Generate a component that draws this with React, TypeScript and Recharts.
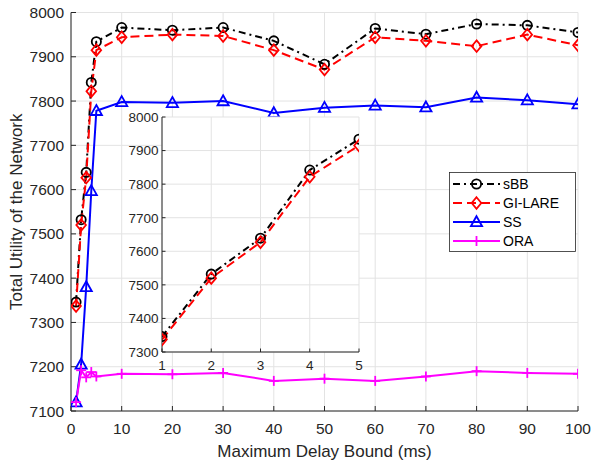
import React from 'react';
import { LineChart, Line, XAxis, YAxis, CartesianGrid, Legend } from 'recharts';

const delayBounds = [1, 2, 3, 4, 5, 10, 20, 30, 40, 50, 60, 70, 80, 90, 100];
const sBB = [7346, 7532, 7639, 7842, 7934, 7966, 7960, 7966, 7936, 7883, 7964, 7951, 7974, 7971, 7955];
const giLare = [7337, 7520, 7627, 7822, 7915, 7944, 7950, 7947, 7915, 7871, 7944, 7936, 7924, 7950, 7926];
const ss = [7120, 7205, 7380, 7597, 7778, 7798, 7796, 7800, 7773, 7785, 7790, 7786, 7808, 7802, 7793];
const ora = [7120, 7192, 7176, 7188, 7178, 7184, 7183, 7186, 7168, 7173, 7168, 7178, 7190, 7186, 7184];

const xTicks = [0, 10, 20, 30, 40, 50, 60, 70, 80, 90, 100];
const yTicks = [7100, 7200, 7300, 7400, 7500, 7600, 7700, 7800, 7900, 8000];
const insetXTicks = [1, 2, 3, 4, 5];
const insetYTicks = [7300, 7400, 7500, 7600, 7700, 7800, 7900, 8000];

const xLabel = 'Maximum Delay Bound (ms)';
const yLabel = 'Total Utility of the Network';

const FONT = '"Liberation Sans", Arial, Helvetica, sans-serif';
const AXIS = '#262626';
const GRID = '#e3e3e3';

type MarkerKind = 'circle' | 'diamond' | 'triangle' | 'plus';

const series: { key: string; name: string; color: string; dash?: string; marker: MarkerKind }[] = [
  { key: 'sBB', name: 'sBB', color: '#000000', dash: '7 4 2 4', marker: 'circle' },
  { key: 'giLare', name: 'GI-LARE', color: '#ff0000', dash: '9 5', marker: 'diamond' },
  { key: 'ss', name: 'SS', color: '#0000ff', marker: 'triangle' },
  { key: 'ora', name: 'ORA', color: '#ff00ff', marker: 'plus' },
];

const mainData = delayBounds.map((x, i) => ({
  x,
  sBB: sBB[i],
  giLare: giLare[i],
  ss: ss[i],
  ora: ora[i],
}));

const insetData = mainData.filter((d) => d.x <= 5);

function Marker({ kind, cx, cy, color }: { kind: MarkerKind; cx: number; cy: number; color: string }) {
  if (cx == null || cy == null || isNaN(cx) || isNaN(cy)) return null;
  const sw = 1.8;
  if (kind === 'circle') {
    return <circle cx={cx} cy={cy} r={4.6} fill="none" stroke={color} strokeWidth={sw} />;
  }
  if (kind === 'diamond') {
    const w = 4.8;
    const h = 5.8;
    return (
      <polygon
        points={`${cx},${cy - h} ${cx + w},${cy} ${cx},${cy + h} ${cx - w},${cy}`}
        fill="none"
        stroke={color}
        strokeWidth={sw}
      />
    );
  }
  if (kind === 'triangle') {
    return (
      <polygon
        points={`${cx},${cy - 5.8} ${cx + 5.6},${cy + 4.2} ${cx - 5.6},${cy + 4.2}`}
        fill="none"
        stroke={color}
        strokeWidth={sw}
      />
    );
  }
  return (
    <g stroke={color} strokeWidth={sw}>
      <line x1={cx - 5} x2={cx + 5} y1={cy} y2={cy} />
      <line x1={cx} x2={cx} y1={cy - 5} y2={cy + 5} />
    </g>
  );
}

const makeDot = (kind: MarkerKind, color: string, prefix: string) => (p: any) => (
  <g key={`${prefix}-${p.index}`}>
    <Marker kind={kind} cx={p.cx} cy={p.cy} color={color} />
  </g>
);

const LegendBox = () => (
  <svg width={127} height={80} style={{ display: 'block', overflow: 'visible' }}>
    <rect x={0.5} y={0.5} width={126} height={79} fill="#ffffff" stroke={AXIS} strokeWidth={0.8} />
    {series.map((s, i) => {
      const y = 12 + i * 19;
      return (
        <g key={s.key}>
          <line x1={4} x2={51} y1={y} y2={y} stroke={s.color} strokeWidth={2} strokeDasharray={s.dash} />
          <Marker kind={s.marker} cx={27.5} cy={y} color={s.color} />
          <text x={54} y={y} dy="0.36em" fontSize={14} fontFamily={FONT} fill="#000">
            {s.name}
          </text>
        </g>
      );
    })}
  </svg>
);

export default function App() {
  return (
    <div style={{ position: 'absolute', left: 0, top: 0, width: 591, height: 464, background: '#fff' }}>
      <div style={{ position: 'absolute', left: 0, top: 0 }}>
        <LineChart width={591} height={464} data={mainData} margin={{ top: 12.5, right: 13, bottom: 23, left: 0 }}>
          <CartesianGrid stroke={GRID} strokeWidth={1} />
          <XAxis
            dataKey="x"
            type="number"
            domain={[0, 100]}
            ticks={xTicks}
            allowDataOverflow
            height={30}
            stroke={AXIS}
            tickSize={-5}
            tickMargin={16.5}
            tick={{ fill: AXIS, fontSize: 15.5, fontFamily: FONT }}
            label={{
              content: (props: any) => {
                const vb = props.viewBox || {};
                return (
                  <text
                    x={vb.x + vb.width / 2}
                    y={457}
                    textAnchor="middle"
                    fontSize={17}
                    fontFamily={FONT}
                    fill={AXIS}
                  >
                    {xLabel}
                  </text>
                );
              },
            }}
          />
          <XAxis
            xAxisId="top"
            orientation="top"
            type="number"
            domain={[0, 100]}
            ticks={xTicks}
            allowDataOverflow
            height={0}
            stroke={AXIS}
            tickSize={-5}
            tick={false}
          />
          <YAxis
            type="number"
            domain={[7100, 8000]}
            ticks={yTicks}
            allowDataOverflow
            width={71}
            stroke={AXIS}
            tickSize={-5}
            tickMargin={12}
            tick={{ fill: AXIS, fontSize: 15.5, fontFamily: FONT }}
            label={{
              content: (props: any) => {
                const vb = props.viewBox || {};
                const cx = vb.x + 22;
                const cy = vb.y + vb.height / 2;
                return (
                  <text
                    x={cx}
                    y={cy}
                    transform={`rotate(-90, ${cx}, ${cy})`}
                    textAnchor="middle"
                    fontSize={17}
                    fontFamily={FONT}
                    fill={AXIS}
                  >
                    {yLabel}
                  </text>
                );
              },
            }}
          />
          <YAxis
            yAxisId="right"
            orientation="right"
            type="number"
            domain={[7100, 8000]}
            ticks={yTicks}
            allowDataOverflow
            width={0}
            stroke={AXIS}
            tickSize={-5}
            tick={false}
          />
          {series.map((s) => (
            <Line
              key={s.key}
              dataKey={s.key}
              name={s.name}
              type="linear"
              stroke={s.color}
              strokeWidth={2}
              strokeDasharray={s.dash}
              dot={makeDot(s.marker, s.color, `m-${s.key}`)}
              activeDot={false}
              isAnimationActive={false}
            />
          ))}
          <Legend
            layout="horizontal"
            verticalAlign="middle"
            align="center"
            content={() => <LegendBox />}
            wrapperStyle={{ position: 'absolute', left: 449, top: 172, width: 127, height: 80 }}
          />
        </LineChart>
      </div>
      <div style={{ position: 'absolute', left: 0, top: 0 }}>
        <LineChart width={591} height={464} data={insetData} margin={{ top: 117, right: 232, bottom: 92, left: 122 }}>
          <CartesianGrid stroke={GRID} strokeWidth={1} fill="#ffffff" fillOpacity={1} />
          <XAxis
            dataKey="x"
            type="number"
            domain={[1, 5]}
            ticks={insetXTicks}
            allowDataOverflow
            height={20}
            stroke={AXIS}
            tickSize={-3.5}
            tickMargin={11.5}
            tick={{ fill: AXIS, fontSize: 13.5, fontFamily: FONT }}
          />
          <XAxis
            xAxisId="top"
            orientation="top"
            type="number"
            domain={[1, 5]}
            ticks={insetXTicks}
            allowDataOverflow
            height={0}
            stroke={AXIS}
            tickSize={-3.5}
            tick={false}
          />
          <YAxis
            type="number"
            domain={[7300, 8000]}
            ticks={insetYTicks}
            allowDataOverflow
            width={40}
            stroke={AXIS}
            tickSize={-3.5}
            tickMargin={7}
            tick={{ fill: AXIS, fontSize: 13.5, fontFamily: FONT }}
          />
          <YAxis
            yAxisId="right"
            orientation="right"
            type="number"
            domain={[7300, 8000]}
            ticks={insetYTicks}
            allowDataOverflow
            width={0}
            stroke={AXIS}
            tickSize={-3.5}
            tick={false}
          />
          {series.slice(0, 2).map((s) => (
            <Line
              key={s.key}
              dataKey={s.key}
              name={s.name}
              type="linear"
              stroke={s.color}
              strokeWidth={2}
              strokeDasharray={s.dash}
              dot={makeDot(s.marker, s.color, `i-${s.key}`)}
              activeDot={false}
              isAnimationActive={false}
            />
          ))}
        </LineChart>
      </div>
    </div>
  );
}
